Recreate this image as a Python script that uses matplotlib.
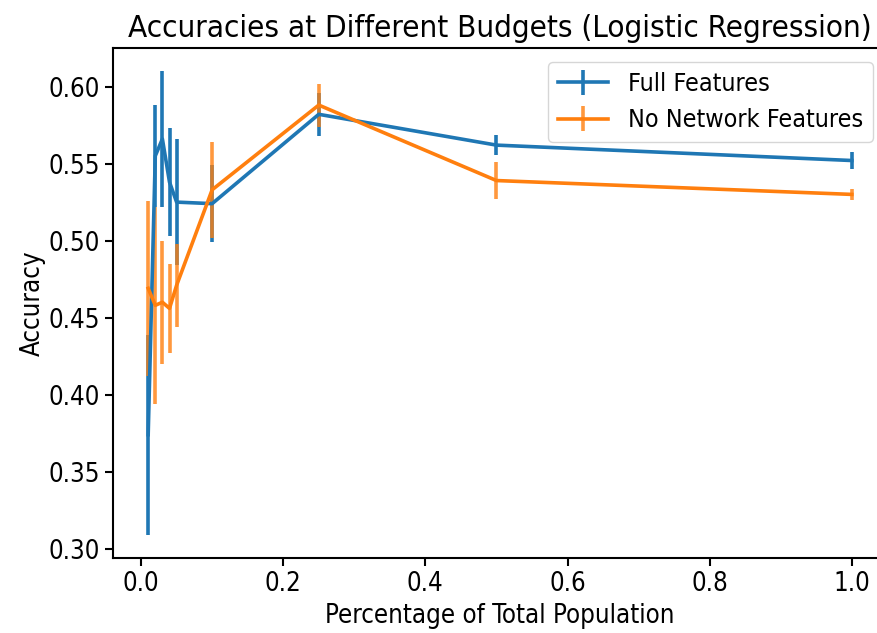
import matplotlib
matplotlib.use("Agg")
import matplotlib.pyplot as plt

budgets = [0.01, 0.02, 0.03, 0.04, 0.05, 0.1, 0.25, 0.5, 1.0]
full_acc = [0.374, 0.555, 0.566, 0.538, 0.525, 0.524, 0.582, 0.562, 0.552]
full_err = [0.065, 0.033, 0.044, 0.035, 0.041, 0.025, 0.014, 0.0063, 0.0057]
nonet_acc = [0.469, 0.458, 0.460, 0.456, 0.471, 0.533, 0.588, 0.539, 0.530]
nonet_err = [0.057, 0.064, 0.040, 0.029, 0.027, 0.031, 0.014, 0.012, 0.0035]

title = "Accuracies at Different Budgets (Logistic Regression)"
xlabel = "Percentage of Total Population"
ylabel = "Accuracy"
labels = ["Full Features", "No Network Features"]

plt.rcParams['font.family'] = ['DejaVu Sans']
plt.rcParams['font.stretch'] = 'condensed'
FS = 18.5

fig = plt.figure(figsize=(8.78, 6.33), dpi=100)
ax = fig.add_axes([113/878, 75/633, 774/878, 510/633])

for acc, err, lab, col, a in [(full_acc, full_err, labels[0], '#1f77b4', 1.0),
                              (nonet_acc, nonet_err, labels[1], '#ff7f0e', 0.8)]:
    cont = ax.errorbar(budgets, acc, yerr=err, label=lab, color=col, lw=2.6,
                       elinewidth=2.6)
    for lc in cont[2]:
        lc.set_alpha(a)

ax.set_title(title, fontsize=22.5, stretch='condensed', pad=8)
ax.set_xlabel(xlabel, fontsize=FS, stretch='condensed')
ax.set_ylabel(ylabel, fontsize=FS, stretch='condensed', labelpad=2)
ax.tick_params(labelsize=FS, width=1.5, length=6)
for lbl in ax.get_xticklabels() + ax.get_yticklabels():
    lbl.set_fontstretch('condensed')
for s in ax.spines.values():
    s.set_linewidth(1.5)
ax.legend(loc='upper right', prop={'size': 18, 'stretch': 'condensed'},
          borderaxespad=0.55, handlelength=2.0)

fig.savefig("out.png", dpi=100)
